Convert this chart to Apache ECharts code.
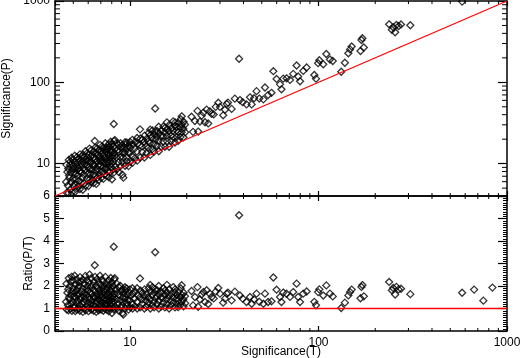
<!DOCTYPE html>
<html>
<head>
<meta charset="utf-8">
<script src="https://cdn.jsdelivr.net/npm/echarts@6/dist/echarts.min.js"></script>
<style>
  html, body { margin: 0; padding: 0; background: #fff; }
  #chart { width: 522px; height: 358px; }
</style>
</head>
<body>
<div id="chart"></div>
<script>
// significance from T (x) and from P (y); ratio panel shows P/T
const sigT = [
  4.62, 4.58, 4.65, 4.60, 4.72, 4.68, 4.75, 4.70, 4.73, 4.82, 4.78, 4.85, 4.80, 4.84, 4.92, 4.88, 4.95, 4.90, 5.02, 4.98, 5.05, 5.00, 4.97,
  5.12, 5.08, 5.15, 5.10, 5.13, 5.09, 5.22, 5.18, 5.25, 5.20, 5.23, 5.32, 5.28, 5.35, 5.30, 5.33, 5.42, 5.38, 5.45, 5.40, 5.43, 5.52, 5.48, 5.55, 5.50, 5.62, 5.58, 5.65, 5.60, 5.63,
  5.72, 5.68, 5.75, 5.70, 5.82, 5.78, 5.85, 5.80, 5.92, 5.88, 5.95, 5.90, 6.02, 5.98, 6.05, 6.00, 6.03, 6.12, 6.08, 6.15, 6.10, 6.22, 6.18, 6.25, 6.20, 6.23, 6.32, 6.28, 6.35, 6.30, 6.42, 6.38, 6.45, 6.40, 6.43, 6.52, 6.48, 6.55, 6.50, 6.53,
  6.62, 6.58, 6.65, 6.60, 6.72, 6.68, 6.75, 6.70, 6.82, 6.78, 6.85, 6.80, 6.92, 6.88, 6.95, 6.90, 6.93, 7.02, 6.98, 7.05, 7.00, 7.12, 7.08, 7.15, 7.10, 7.22, 7.18, 7.25, 7.20, 7.32, 7.28, 7.35, 7.30, 7.42, 7.38, 7.45, 7.40, 7.52, 7.48, 7.55, 7.50,
  7.62, 7.58, 7.65, 7.60, 7.72, 7.68, 7.75, 7.70, 7.82, 7.78, 7.85, 7.80, 7.92, 7.88, 7.95, 7.90, 8.02, 7.98, 8.05, 8.00, 8.03, 8.12, 8.08, 8.15, 8.22, 8.18, 8.25, 8.20, 8.23, 8.32, 8.28, 8.35, 8.30, 8.52, 8.48, 8.55, 8.50, 8.72, 8.68, 8.75, 8.70, 8.92, 8.88, 8.95, 8.90,
  9.12, 9.08, 9.15, 9.10, 9.22, 9.18, 9.25, 9.42, 9.38, 9.45, 9.40, 9.62, 9.58, 9.65, 9.60, 9.82, 9.78, 9.85, 10.02, 9.98, 10.05, 10.0, 10.32, 10.28, 10.35, 10.30, 10.62, 10.58, 10.65, 10.92, 10.88, 10.95, 10.90,
  11.32, 11.28, 11.30, 11.35, 11.62, 11.58, 11.65, 11.92, 11.88, 11.95, 12.22, 12.18, 12.25, 12.52, 12.48, 12.55, 12.82, 12.78, 12.85, 12.80, 13.12, 13.08, 13.15, 13.42, 13.38, 13.45, 13.60, 13.65, 13.58, 13.92, 13.88, 13.95, 14.22, 14.18, 14.25, 14.20, 14.62, 14.58, 14.65, 15.02, 14.98, 15.05,
  15.32, 15.28, 15.35, 15.72, 15.68, 15.75, 15.70, 16.12, 16.08, 16.15, 16.52, 16.48, 16.55, 16.92, 16.88, 16.95, 17.32, 17.28, 17.35, 17.72, 17.68, 17.75, 18.02, 17.98, 18.05, 18.52, 18.48, 18.55, 18.80, 18.78, 18.85, 19.22, 19.18, 19.25, 19.62, 19.58,
  21.2, 22.1, 21.6, 24.5, 25.5, 26.5, 27.1, 25.0, 29.4, 30.0, 32.6, 33.1, 31.9, 34.6, 31.2, 37.9, 38.3, 39.6, 41.5, 43.3, 44.2, 46.9, 52.0, 51.0, 54.0, 56.3, 57.6, 59.9, 62.5, 65.0, 67.7, 63.6, 70.6, 73.4, 76.5, 78.0, 79.8, 83.0, 86.5, 95.0,
  97.0, 99.5, 101, 106, 110, 115, 119, 132, 138, 144, 147, 150, 169, 171, 167, 174, 237, 245, 249, 255, 259, 266, 274, 307, 578, 669, 749, 837,
  22.8, 23.5, 24.0, 26.0, 27.8, 28.5, 23.0, 36.0, 45.5, 48.5
];
const sigP = [
  4.39, 5.95, 7.91, 9.66, 4.34, 5.38, 7.13, 8.70, 11.1, 4.82, 6.69, 7.76, 9.60, 10.6, 4.43, 5.86, 8.66, 11.8, 5.27, 6.47, 7.83, 9.50, 11.2,
  4.51, 5.59, 7.47, 8.67, 10.5, 12.5, 4.96, 6.48, 8.40, 9.36, 12.0, 5.32, 7.13, 8.83, 10.3, 11.5, 4.88, 6.19, 8.18, 10.8, 13.0, 5.80, 7.67, 9.71, 12.1, 4.78, 6.70, 8.76, 10.6, 12.9,
  5.72, 7.38, 9.78, 12.0, 5.35, 8.38, 10.8, 14.2, 6.51, 9.41, 11.9, 13.3, 5.30, 7.48, 9.08, 10.8, 13.0, 6.43, 8.51, 10.5, 15.3, 5.91, 7.42, 10.3, 12.1, 14.6, 6.32, 8.48, 9.84, 12.9, 5.78, 7.34, 9.68, 11.8, 14.1, 7.17, 9.40, 11.5, 19.0, 15.7,
  5.63, 8.23, 10.6, 13.2, 6.72, 8.68, 12.8, 15.4, 6.27, 9.49, 11.6, 14.6, 7.27, 8.26, 10.8, 12.4, 17.0, 6.67, 9.42, 11.6, 14.4, 7.83, 10.6, 13.6, 16.3, 6.50, 8.98, 12.7, 15.8, 7.32, 10.6, 11.8, 14.6, 8.53, 9.96, 13.8, 17.8, 7.14, 8.98, 11.7, 15.8,
  8.00, 10.6, 13.0, 14.8, 6.79, 9.98, 12.4, 17.3, 7.82, 11.7, 14.1, 16.0, 9.11, 10.6, 15.1, 18.6, 6.42, 9.98, 12.5, 14.0, 17.3, 8.53, 11.7, 16.3, 7.81, 10.6, 13.6, 30.7, 18.9, 9.15, 12.4, 15.4, 19.5, 8.52, 11.9, 14.5, 17.9, 7.85, 10.4, 14.0, 17.0, 9.37, 12.0, 15.7, 17.8,
  7.30, 10.4, 13.7, 16.8, 6.73, 11.9, 15.3, 9.42, 13.6, 17.0, 18.3, 10.6, 12.0, 15.4, 18.2, 9.33, 13.7, 16.7, 10.5, 13.5, 15.6, 18.5, 10.3, 12.3, 17.1, 19.6, 11.7, 15.3, 18.6, 10.9, 14.1, 17.5, 20.7,
  11.9, 16.9, 26.4, 20.4, 13.9, 16.2, 19.8, 11.9, 18.4, 22.1, 13.4, 16.4, 20.2, 15.7, 18.7, 23.8, 12.8, 17.9, 22.5, 26.2, 15.1, 20.9, 25.6, 14.1, 17.4, 22.9, 47.6, 19.8, 25.1, 16.7, 21.5, 25.1, 14.2, 19.1, 23.5, 28.4, 16.1, 21.9, 25.6, 18.8, 21.7, 28.6,
  16.1, 24.4, 27.6, 18.9, 22.0, 26.8, 32.2, 16.1, 24.9, 29.9, 19.0, 22.2, 27.3, 21.2, 25.3, 33.1, 18.2, 29.4, 32.1, 21.3, 25.6, 28.4, 19.1, 24.3, 31.6, 21.3, 27.7, 35.2, 38.2, 24.4, 30.2, 21.1, 26.9, 32.7, 24.3, 30.3,
  37.7, 33.4, 24.6, 42.4, 46.2, 44.0, 40.9, 32.3, 56.2, 49.8, 54.1, 56.3, 45.9, 47.1, 39.3, 195, 60.5, 57.0, 53.5, 65.4, 53.5, 77.9, 86.3, 61.7, 69.7, 74.3, 137, 110, 94.4, 111, 112, 82.0, 107, 127, 161, 118, 103, 138, 152, 123,
  111, 172, 187, 167, 223, 191, 183, 135, 174, 228, 254, 276, 331, 349, 243, 268, 517, 443, 476, 413, 508, 492, 515, 503, 983, 1231, 1010, 1615,
  44.5, 32.9, 38.9, 31.2, 40.3, 49.9, 24.8, 63.0, 63.7, 63.1
];

const sigMin = 4;
const sigMax = 1000;
const ratioMin = 0;
const ratioMax = 6;
const refRatio = 1;
const logMinorTicks = [5, 6, 7, 8, 9, 20, 30, 40, 50, 60, 70, 80, 90, 200, 300, 400, 500, 600, 700, 800, 900];

const topPoints = sigT.map((t, i) => [t, sigP[i]]);
const ratioPoints = sigT.map((t, i) => [t, sigP[i] / t]);

const font = 'Liberation Sans, Helvetica, Arial, sans-serif';
const black = '#000';
const nameStyle = { color: black, fontFamily: font, fontSize: 12 };

const decadeLabel = (v) => {
  const l = Math.log10(v);
  return Math.abs(l - Math.round(l)) < 1e-6 ? String(Math.round(v)) : '';
};

const logX = (gridIndex, position, showLabel) => ({
  type: 'log',
  logBase: 10,
  gridIndex,
  position,
  min: sigMin,
  max: sigMax,
  axisLine: { show: true, onZero: false, lineStyle: { color: black, width: 1.5 } },
  axisTick: { show: true, inside: true, length: 5, lineStyle: { color: black, width: 1.2 } },
  axisLabel: {
    show: showLabel,
    color: black,
    fontFamily: font,
    fontSize: 12,
    margin: 6,
    formatter: decadeLabel,
  },
  splitLine: { show: false },
})

const chart = echarts.init(document.getElementById('chart'), null, { renderer: 'canvas' });

// minor ticks on log axes (drawn through the axis scales)
const minorTickSeries = (xi, yi, withY, yVal) => ({
  type: 'custom',
  xAxisIndex: xi,
  yAxisIndex: yi,
  silent: true,
  z: 5,
  data: logMinorTicks.map(v => [v, withY ? v : yVal]),
  renderItem: (params, api) => {
    const cs = params.coordSys;
    const v = api.value(0);
    const px = api.coord([v, withY ? 10 : yVal])[0];
    const style = { stroke: black, lineWidth: 1 };
    const children = [
      { type: 'line', shape: { x1: px, y1: cs.y + cs.height, x2: px, y2: cs.y + cs.height - 3 }, style },
      { type: 'line', shape: { x1: px, y1: cs.y, x2: px, y2: cs.y + 3 }, style },
    ];
    if (withY) {
      const py = api.coord([10, v])[1];
      children.push(
        { type: 'line', shape: { x1: cs.x, y1: py, x2: cs.x + 5, y2: py }, style },
        { type: 'line', shape: { x1: cs.x + cs.width, y1: py, x2: cs.x + cs.width - 5, y2: py }, style }
      );
    }
    return { type: 'group', children };
  },
});

chart.setOption({
  backgroundColor: '#fff',
  animation: false,
  grid: [
    { left: 55, top: 1, width: 452, height: 195, outerBoundsMode: 'none', containLabel: false },
    { left: 55, top: 196, width: 452, height: 135, outerBoundsMode: 'none', containLabel: false },
  ],
  xAxis: [
    logX(0, 'bottom', false),
    logX(0, 'top', false),
    Object.assign(logX(1, 'bottom', true), {
      name: 'Significance(T)',
      nameLocation: 'middle',
      nameGap: 15,
      nameMoveOverlap: false,
      nameTextStyle: nameStyle,
    }),
    logX(1, 'top', false),
  ],
  yAxis: [
    {
      type: 'log',
      logBase: 10,
      gridIndex: 0,
      position: 'left',
      min: sigMin,
      max: sigMax,
      name: 'Significance(P)',
      nameLocation: 'middle',
      nameGap: 42,
      nameMoveOverlap: false,
      nameTextStyle: nameStyle,
      axisLine: { show: true, onZero: false, lineStyle: { color: black, width: 1.5 } },
      axisTick: { show: true, inside: true, length: 9, lineStyle: { color: black, width: 1.2 } },
      axisLabel: { color: black, fontFamily: font, fontSize: 12, margin: 5, formatter: decadeLabel },
      splitLine: { show: false },
    },
    {
      type: 'log',
      logBase: 10,
      gridIndex: 0,
      position: 'right',
      min: sigMin,
      max: sigMax,
      axisLine: { show: true, onZero: false, lineStyle: { color: black, width: 1.5 } },
      axisTick: { show: true, inside: true, length: 9, lineStyle: { color: black, width: 1.2 } },
      axisLabel: { show: false },
      splitLine: { show: false },
    },
    {
      type: 'value',
      gridIndex: 1,
      position: 'left',
      min: ratioMin,
      max: ratioMax,
      interval: 1,
      name: 'Ratio(P/T)',
      nameLocation: 'middle',
      nameGap: 20,
      nameMoveOverlap: false,
      nameTextStyle: nameStyle,
      axisLine: { show: true, onZero: false, lineStyle: { color: black, width: 1.5 } },
      axisTick: { show: true, inside: true, length: 9, lineStyle: { color: black, width: 1.2 } },
      minorTick: { show: true, splitNumber: 10, length: 4, lineStyle: { color: black, width: 1 } },
      axisLabel: { color: black, fontFamily: font, fontSize: 12, margin: 5 },
      splitLine: { show: false },
    },
    {
      type: 'value',
      gridIndex: 1,
      position: 'right',
      min: ratioMin,
      max: ratioMax,
      interval: 1,
      axisLine: { show: true, onZero: false, lineStyle: { color: black, width: 1.5 } },
      axisTick: { show: true, inside: true, length: 9, lineStyle: { color: black, width: 1.2 } },
      minorTick: { show: true, splitNumber: 10, length: 4, lineStyle: { color: black, width: 1 } },
      axisLabel: { show: false },
      splitLine: { show: false },
    },
  ],
  series: [
    {
      name: 'P vs T',
      type: 'scatter',
      xAxisIndex: 0,
      yAxisIndex: 0,
      symbol: 'diamond',
      symbolSize: 7,
      clip: true,
      itemStyle: { color: 'rgba(0,0,0,0)', borderColor: black, borderWidth: 1.3 },
      data: topPoints,
    },
    {
      name: 'P = T',
      type: 'line',
      xAxisIndex: 0,
      yAxisIndex: 0,
      showSymbol: false,
      z: 4,
      lineStyle: { color: '#ff0000', width: 1.3 },
      data: [[sigMin, sigMin], [sigMax, sigMax]],
    },
    {
      name: 'P/T',
      type: 'scatter',
      xAxisIndex: 2,
      yAxisIndex: 2,
      symbol: 'diamond',
      symbolSize: 7,
      clip: true,
      itemStyle: { color: 'rgba(0,0,0,0)', borderColor: black, borderWidth: 1.3 },
      data: ratioPoints,
    },
    {
      name: 'ratio 1',
      type: 'line',
      xAxisIndex: 2,
      yAxisIndex: 2,
      showSymbol: false,
      z: 4,
      lineStyle: { color: '#ff0000', width: 1.5 },
      data: [[sigMin, refRatio], [sigMax, refRatio]],
    },
    minorTickSeries(0, 0, true, 0),
    minorTickSeries(2, 2, false, refRatio),
  ],
});
</script>
</body>
</html>
